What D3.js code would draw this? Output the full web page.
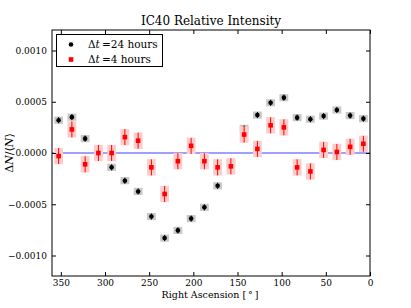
<!DOCTYPE html>
<html>
<head>
<meta charset="utf-8">
<script src="https://cdn.jsdelivr.net/npm/d3@7"></script>
<style>
  body { margin: 0; background: #fff; }
  text { font-family: "DejaVu Serif", serif; }
</style>
</head>
<body>
<script>
var w = 411, h = 308;
var margin = {top: 30, right: 41, bottom: 32, left: 52};

// bin centres in right ascension (degrees)
var ra = [352.5, 337.5, 322.5, 307.5, 292.5, 277.5, 262.5, 247.5, 232.5, 217.5, 202.5, 187.5,
          172.5, 157.5, 142.5, 127.5, 112.5, 97.5, 82.5, 67.5, 52.5, 37.5, 22.5, 7.5];

var day = [0.00032, 0.00035, 0.00014, 0.00001, -0.00014, -0.00027, -0.000375, -0.00062,
           -0.00083, -0.000755, -0.00064, -0.00053, -0.00032, -0.0001, 0.00024, 0.00037,
           0.00049, 0.00054, 0.000345, 0.00033, 0.00036, 0.00042, 0.000365, 0.000335];
var dayErr = 0.00003, daySys = 0.000035;

var four = [-0.00003, 0.00023, -0.00011, 0.0, 0.0, 0.000155, 0.00012, -0.00014,
            -0.0004, -0.00008, 0.00007, -0.00008, -0.00014, -0.00013, 0.00018, 0.00004,
            0.00027, 0.00025, -0.00014, -0.00018, 0.00003, 0.00001, 0.00006, 0.00009];
var fourErr = 0.000078, fourSys = 0.00008;

var xTicks = [350, 300, 250, 200, 150, 100, 50, 0];
var yTicks = [-0.001, -0.0005, 0, 0.0005, 0.001];
var binHalf = 5;

var svg = d3.select("body").append("svg")
    .attr("width", w)
    .attr("height", h);

var x = d3.scaleLinear().domain([360, 0]).range([margin.left, w - margin.right]);
var y = d3.scaleLinear().domain([-0.0012, 0.0012]).range([h - margin.bottom, margin.top]);

var pw = w - margin.left - margin.right, ph = h - margin.top - margin.bottom;

// zero line
svg.append("line")
    .attr("x1", x(360)).attr("x2", x(0))
    .attr("y1", y(0)).attr("y2", y(0))
    .style("stroke", "#0000ff").style("stroke-opacity", 0.5).style("stroke-width", 1.5);

function drawSeries(vals, err, sys, boxColor, col, marker) {
  var g = svg.append("g");
  g.selectAll(".box").data(vals).enter().append("rect")
      .attr("x", (d, i) => x(ra[i] + binHalf))
      .attr("width", (d, i) => x(ra[i] - binHalf) - x(ra[i] + binHalf))
      .attr("y", d => y(d + sys))
      .attr("height", d => y(d - sys) - y(d + sys))
      .style("fill", boxColor);
  g.selectAll(".err").data(vals).enter().append("line")
      .attr("x1", (d, i) => x(ra[i])).attr("x2", (d, i) => x(ra[i]))
      .attr("y1", d => y(d + err)).attr("y2", d => y(d - err))
      .style("stroke", col).style("stroke-width", 1);
  if (marker == "circle") {
    g.selectAll(".pt").data(vals).enter().append("circle")
        .attr("cx", (d, i) => x(ra[i])).attr("cy", d => y(d))
        .attr("r", 2.3).style("fill", col);
  } else {
    g.selectAll(".pt").data(vals).enter().append("rect")
        .attr("x", (d, i) => x(ra[i]) - 2.3).attr("y", d => y(d) - 2.3)
        .attr("width", 4.6).attr("height", 4.6).style("fill", col);
  }
}

drawSeries(day, dayErr, daySys, "#c8c8c8", "#000000", "circle");
drawSeries(four, fourErr, fourSys, "#ffcccc", "#ff0000", "square");

// axes with inward ticks on all sides
var bottom = svg.append("g").attr("transform", "translate(0," + (h - margin.bottom) + ")")
    .call(d3.axisBottom(x).tickValues(xTicks).tickSizeInner(-4).tickSizeOuter(0).tickPadding(4));
var top = svg.append("g").attr("transform", "translate(0," + margin.top + ")")
    .call(d3.axisTop(x).tickValues(xTicks).tickSizeInner(-4).tickSizeOuter(0).tickFormat(""));
var left = svg.append("g").attr("transform", "translate(" + margin.left + ",0)")
    .call(d3.axisLeft(y).tickValues(yTicks).tickSizeInner(-4).tickSizeOuter(0).tickPadding(5)
      .tickFormat(d => (d < 0 ? "\u2212" : "") + Math.abs(d).toFixed(4)));
var right = svg.append("g").attr("transform", "translate(" + (w - margin.right) + ",0)")
    .call(d3.axisRight(y).tickValues(yTicks).tickSizeInner(-4).tickSizeOuter(0).tickFormat(""));

svg.selectAll(".domain").remove();
svg.selectAll(".tick text").style("font-family", "DejaVu Serif").style("font-size", "9px").attr("fill", "#000");
svg.selectAll(".tick line").attr("stroke", "#000");

svg.append("rect")
    .attr("x", margin.left).attr("y", margin.top)
    .attr("width", pw).attr("height", ph)
    .style("fill", "none").style("stroke", "#000").style("stroke-width", 1);

// title and labels
svg.append("text")
    .attr("x", margin.left + pw / 2).attr("y", 25)
    .attr("text-anchor", "middle").style("font-size", "12px")
    .text("IC40 Relative Intensity");

svg.append("text")
    .attr("x", margin.left + pw / 2 - 1).attr("y", 298)
    .attr("text-anchor", "middle").style("font-size", "9.5px")
    .text("Right Ascension [\u2009\u00b0\u2009]");

var yl = svg.append("text")
    .attr("transform", "translate(13," + y(0) + ") rotate(-90)")
    .attr("text-anchor", "middle").style("font-size", "11px");
yl.append("tspan").text("\u0394");
yl.append("tspan").style("font-style", "italic").text("N");
yl.append("tspan").text("/\u27e8");
yl.append("tspan").style("font-style", "italic").text("N");
yl.append("tspan").text("\u27e9");

// legend
var legItems = [
  {label: "24 hours", col: "#000000", marker: "circle"},
  {label: "4 hours", col: "#ff0000", marker: "square"}
];
var leg = svg.append("g");
leg.append("rect")
    .attr("x", 56.5).attr("y", 34.5).attr("width", 106).attr("height", 32)
    .style("fill", "#fff").style("stroke", "#000").style("stroke-width", 1);
var items = leg.selectAll(".item").data(legItems).enter().append("g")
    .attr("transform", (d, i) => "translate(0," + (44.5 + i * 15) + ")");
items.each(function(d) {
  var g = d3.select(this);
  if (d.marker == "circle") g.append("circle").attr("cx", 71).attr("cy", 0).attr("r", 2.3).style("fill", d.col);
  else g.append("rect").attr("x", 68.7).attr("y", -2.3).attr("width", 4.6).attr("height", 4.6).style("fill", d.col);
  var t = g.append("text").attr("x", 88).attr("y", 3.8).style("font-size", "10.5px");
  t.append("tspan").text("\u0394");
  t.append("tspan").style("font-style", "italic").text("t");
  t.append("tspan").text("\u2009=" + d.label.replace(" ", "\u00a0"));
});
</script>
</body>
</html>
